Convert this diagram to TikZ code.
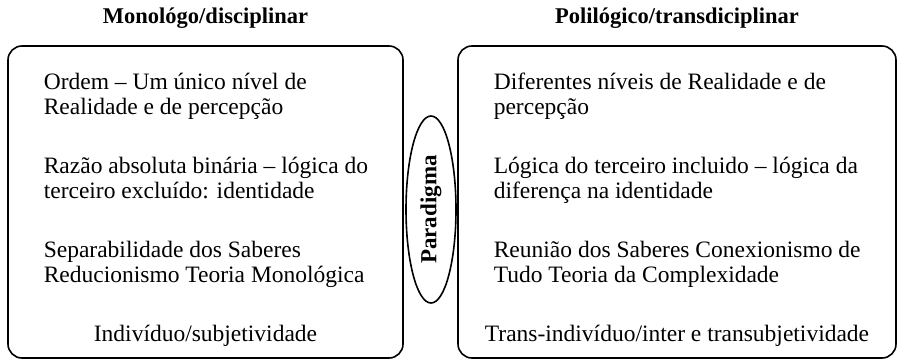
\documentclass[tikz,border=0pt]{standalone}
\usepackage{fontspec}
\setmainfont{Liberation Serif}
\usetikzlibrary{positioning,shapes.geometric}

\begin{document}
\begin{tikzpicture}[x=1pt, y=-1pt, line width=1.6pt,
        panel/.style={draw, rounded corners=14pt, minimum height=312pt, inner sep=0pt},
        item/.style={anchor=base west, align=left, inner sep=0pt, font=\fontsize{23.5}{25}\selectfont},
        heading/.style={inner sep=0pt, font=\fontsize{22.5}{25}\selectfont\bfseries}]
    \useasboundingbox (0,0) rectangle (901,362);
    % caixas
    \node[panel, minimum width=395pt] (mono) at (205.5,202) {};
    \node[panel, minimum width=438pt] (poli) at (677,202) {};
    \node[draw, ellipse, rotate=90, minimum width=187pt, minimum height=50pt, inner sep=0pt,
        font=\fontsize{23}{25}\selectfont\bfseries] (paradigma) at (431,209.5) {Paradigma};
    % titulos
    \node[heading, above=16pt of mono] (tmono) {Monológo/disciplinar};
    \node[heading, above=16pt of poli] (tpoli) {Polilógico/transdiciplinar};
    % esquerda (base = ultima linha)
    \node[item] (m1) at (43,114) {Ordem – Um único nível de\\Realidade e de percepção};
    \node[item] (m2) at (43,198) {Razão absoluta binária – lógica do\\terceiro excluído: identidade};
    \node[item] (m3) at (43,282) {Separabilidade dos Saberes\\Reducionismo Teoria Monológica};
    \node[item, anchor=south, above=12pt of mono.south] (m4) {Indivíduo/subjetividade};
    % direita
    \node[item] (p1) at (493,114) {Diferentes níveis de Realidade e de\\percepção};
    \node[item] (p2) at (493,198) {Lógica do terceiro incluido – lógica da\\diferença na identidade};
    \node[item] (p3) at (493,282) {Reunião dos Saberes Conexionismo de\\Tudo Teoria da Complexidade};
    \node[item, anchor=south, above=12pt of poli.south] (p4) {Trans-indivíduo/inter e transubjetividade};
\end{tikzpicture}
\end{document}
